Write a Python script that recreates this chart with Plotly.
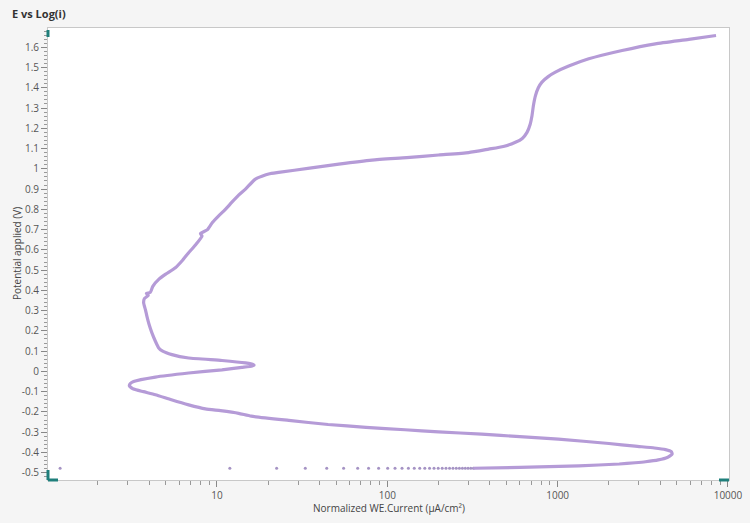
import plotly.graph_objects as go

# Sparse initial points (shown as dots)
dot_current = [1.2, 11.9, 22.4, 33.0, 44.1, 55.4, 67.0, 77.6, 88.9, 100.5, 111, 122, 133,
               144, 155, 166, 177, 188, 199, 210, 221, 232, 243, 254, 265, 276, 287, 298, 309, 320]
dot_potential = [-0.478] * len(dot_current)

# Main polarization curve
curve_current = [
    320, 600, 1330, 2300, 2850, 3280, 3900, 4400, 4700, 4650, 4300, 3700, 2850, 2000, 1010, 600,
    358, 200, 127, 75, 44.9, 26.4, 15.9, 13.4, 10.5, 8.55,
    6.82, 5.4, 4.35, 3.7, 3.24, 3.06, 3.1, 3.24, 4.35, 6.82, 10.7, 14.0, 16.1, 16.5, 15.8, 14.7,
    10.7, 6.82, 5.44, 4.8, 4.55, 4.35, 4.15, 4.0, 3.88, 3.8, 3.71, 3.75, 3.95, 3.85, 4.06, 4.2, 4.55,
    5.0, 5.7, 6.3, 6.82, 7.5, 8.17, 8.0, 8.8, 9.4, 10.2, 11.2, 12.2, 13.4, 14.7, 16.8, 20.1,
    23, 35, 51.9, 81.3, 130, 200, 300, 394, 480, 565, 620, 661, 690, 707, 720, 741, 770, 809,
    880, 970, 1162, 1523, 2390, 3750, 5890, 8510]
curve_potential = [
    -0.478, -0.474, -0.466, -0.457, -0.451, -0.446, -0.437, -0.425, -0.408, -0.396, -0.386,
    -0.378, -0.369, -0.356, -0.334, -0.322, -0.310, -0.298, -0.288, -0.276, -0.262, -0.242,
    -0.221, -0.207, -0.194, -0.185,
    -0.165, -0.14, -0.115, -0.100, -0.087, -0.071, -0.060, -0.050, -0.028, -0.008, 0.008,
    0.020, 0.027, 0.031, 0.037, 0.042, 0.054, 0.066, 0.083, 0.100, 0.116, 0.149, 0.19, 0.23,
    0.272, 0.305, 0.339, 0.36, 0.375, 0.385, 0.39, 0.42, 0.454,
    0.48, 0.512, 0.55, 0.586, 0.625, 0.668, 0.68, 0.70, 0.735, 0.767, 0.80, 0.834, 0.87, 0.9,
    0.949, 0.974, 0.982, 1.003, 1.023, 1.043, 1.055, 1.068, 1.08, 1.097, 1.11, 1.131, 1.15,
    1.18, 1.22, 1.262, 1.31, 1.361, 1.40, 1.428, 1.455, 1.477, 1.507, 1.543, 1.584, 1.617,
    1.639, 1.658]

x_tick_vals = [10, 100, 1000, 10000]
x_tick_text = ["10", "100", "1000", "10000"]
x_minor_vals = [m * 10 ** e for e in range(0, 4) for m in range(2, 10)]
y_tick_vals = [-0.5, -0.4, -0.3, -0.2, -0.1, 0, 0.1, 0.2, 0.3, 0.4, 0.5, 0.6, 0.7, 0.8,
               0.9, 1, 1.1, 1.2, 1.3, 1.4, 1.5, 1.6]
y_tick_text = ["-0.5", "-0.4", "-0.3", "-0.2", "-0.1", "0", "0.1", "0.2", "0.3", "0.4",
               "0.5", "0.6", "0.7", "0.8", "0.9", "1", "1.1", "1.2", "1.3", "1.4", "1.5", "1.6"]

LINE = "#b59bd7"
TEAL = "#1f7f7b"
FONT = "Open Sans"

fig = go.Figure()
fig.add_trace(go.Scatter(x=dot_current, y=dot_potential, mode="markers",
                         marker=dict(size=3, color="#a593c4"), showlegend=False,
                         hoverinfo="skip"))
fig.add_trace(go.Scatter(x=curve_current, y=curve_potential, mode="lines",
                         line=dict(color=LINE, width=3.2, shape="spline", smoothing=0.5),
                         showlegend=False))

fig.update_layout(
    width=750, height=523,
    margin=dict(l=48, r=21, t=28, b=43, autoexpand=False),
    paper_bgcolor="#f5f5f5",
    plot_bgcolor="#ffffff",
    font=dict(family=FONT, size=10, color="#555555"),
    title=dict(text="<b>E vs Log(i)</b>", x=0.016, xanchor="left", y=0.972, yanchor="middle",
               font=dict(family=FONT, size=11, color="#333333")),
    xaxis=dict(
        type="log", range=[0.008, 4.006], automargin=False,
        tickmode="array", tickvals=x_tick_vals, ticktext=x_tick_text,
        ticks="outside", ticklen=6, tickcolor="#888888", tickwidth=1,
        minor=dict(tickmode="array", tickvals=x_minor_vals, ticks="outside", ticklen=4,
                   tickcolor="#999999", showgrid=False),
        showgrid=False, zeroline=False,
        showline=True, linecolor="#c8c8c8", linewidth=1, mirror=True,
        tickfont=dict(size=10, color="#555555"),
    ),
    yaxis=dict(
        range=[-0.536, 1.695], automargin=False,
        tickmode="array", tickvals=y_tick_vals, ticktext=y_tick_text,
        ticks="outside", ticklen=6, tickcolor="#888888", tickwidth=1,
        minor=dict(dtick=0.02, tick0=0, ticks="outside", ticklen=3, tickcolor="#999999",
                   showgrid=False),
        showgrid=False, zeroline=False,
        showline=True, linecolor="#c8c8c8", linewidth=1, mirror=True,
        tickfont=dict(size=10, color="#555555"),
    ),
    annotations=[
        dict(text="Normalized WE.Current (µA/cm²)", xref="paper", yref="paper", x=0.5, y=0,
             yshift=-28, xanchor="center", yanchor="middle", showarrow=False,
             font=dict(size=10, color="#444444")),
        dict(text="Potential applied (V)", xref="paper", yref="paper", x=0, y=0.5,
             xshift=-31, xanchor="center", yanchor="middle", textangle=-90, showarrow=False,
             font=dict(size=10, color="#444444")),
    ],
)

# Teal axis-range handles at the corners of the plot area
H = 452.0
W = 681.0
shapes = [
    dict(type="line", xref="paper", yref="paper", x0=0, x1=0, y0=1 - 2 / H, y1=1 - 9 / H,
         line=dict(color=TEAL, width=3)),
    dict(type="line", xref="paper", yref="paper", x0=0, x1=0, y0=0, y1=10 / H,
         line=dict(color=TEAL, width=3)),
    dict(type="line", xref="paper", yref="paper", x0=0, x1=10 / W, y0=0, y1=0,
         line=dict(color=TEAL, width=3)),
    dict(type="line", xref="paper", yref="paper", x0=1 - 10 / W, x1=1, y0=0, y1=0,
         line=dict(color=TEAL, width=3)),
]
fig.update_layout(shapes=shapes)

fig.write_html("out.html", config={"displayModeBar": False},
               post_script="document.body.style.margin='0';document.body.style.padding='0';")
